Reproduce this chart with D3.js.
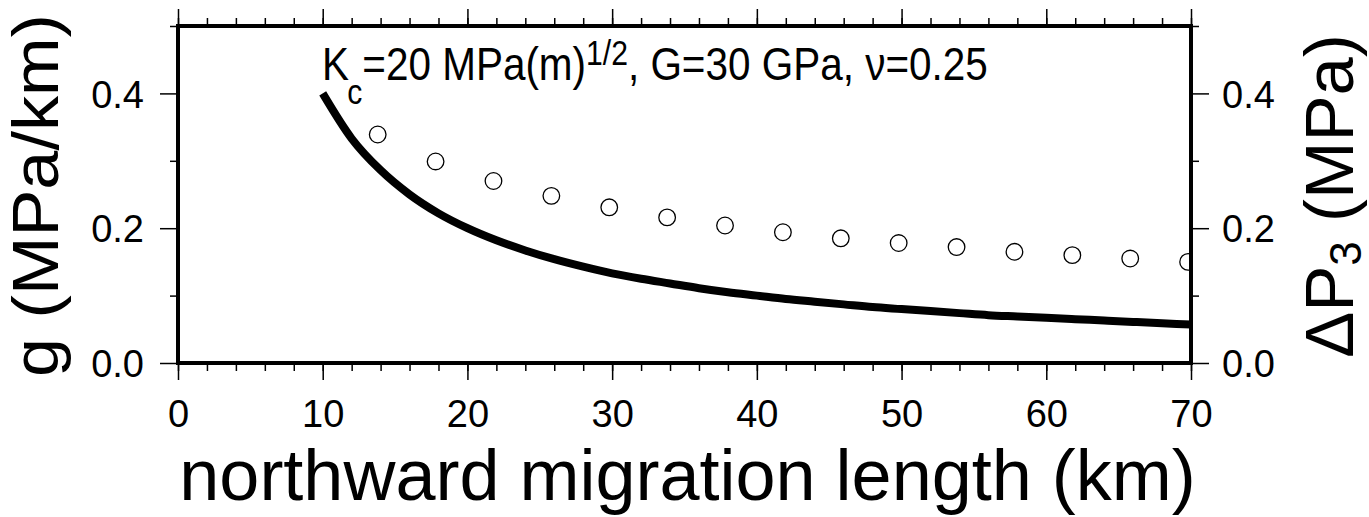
<!DOCTYPE html>
<html>
<head>
<meta charset="utf-8">
<script src="https://cdn.jsdelivr.net/npm/d3@7"></script>
<style>
  html, body { margin: 0; padding: 0; background: #fff; }
  svg { display: block; }
  text { font-family: "Liberation Sans", Arial, Helvetica, sans-serif; fill: #000; }
</style>
</head>
<body>
<svg id="chart" width="1369" height="517"></svg>
<script>
// Gradient g (MPa/km) versus northward migration length (km)
const curveLength = [10, 12, 14, 16, 18, 20, 22, 24, 26, 28, 30, 32, 34, 36, 38, 40,
                     42, 44, 46, 48, 50, 52, 54, 56, 58, 60, 62, 64, 66, 68, 70];
const curveG = [0.400, 0.333, 0.286, 0.250, 0.222, 0.200, 0.182, 0.167, 0.154, 0.143,
                0.133, 0.125, 0.118, 0.111, 0.105, 0.100, 0.095, 0.091, 0.087, 0.083,
                0.080, 0.077, 0.074, 0.071, 0.069, 0.067, 0.065, 0.063, 0.061, 0.059, 0.057];

// Pressure change ΔP3 (MPa) at sampled lengths
const pointLength = [13.8, 17.8, 21.8, 25.8, 29.8, 33.8, 37.8, 41.8, 45.8, 49.8,
                     53.8, 57.8, 61.8, 65.8, 69.8];
const pointDP3 = [0.339, 0.299, 0.270, 0.248, 0.231, 0.216, 0.204, 0.194, 0.185, 0.178,
                  0.172, 0.165, 0.160, 0.155, 0.150];

// Axis ticks
const xMajorTicks = [0, 10, 20, 30, 40, 50, 60, 70];
const xMinorTicks = d3.range(0, 71, 2);
const yMajorTicks = [0.0, 0.2, 0.4];
const yMinorTicks = [0.1, 0.3, 0.5];

const svg = d3.select("#chart");
const L = 178, R = 1191, T = 26, B = 363;

const x = d3.scaleLinear().domain([0, 70]).range([L, R]);
const y = d3.scaleLinear().domain([0, 0.5]).range([B, T]);
const y2 = d3.scaleLinear().domain([0, 0.5]).range([B, T]);

function styleAxis(g) {
  g.select(".domain").remove();
  g.selectAll(".tick line").attr("stroke", "#000").attr("stroke-width", 1.5);
  g.selectAll(".tick text").attr("fill", "#000").style("font-size", "38px")
    .style("font-family", '"Liberation Sans", Arial, Helvetica, sans-serif');
}

// minor ticks
svg.append("g").attr("transform", `translate(0,${B})`)
  .call(d3.axisBottom(x).tickValues(xMinorTicks).tickSize(8).tickFormat(""))
  .call(styleAxis);
svg.append("g").attr("transform", `translate(0,${T})`)
  .call(d3.axisTop(x).tickValues(xMinorTicks).tickSize(8).tickFormat(""))
  .call(styleAxis);
svg.append("g").attr("transform", `translate(${L},0)`)
  .call(d3.axisLeft(y).tickValues(yMinorTicks).tickSize(8).tickFormat(""))
  .call(styleAxis);
svg.append("g").attr("transform", `translate(${R},0)`)
  .call(d3.axisRight(y2).tickValues(yMinorTicks).tickSize(8).tickFormat(""))
  .call(styleAxis);

// major ticks
const xAxis = svg.append("g").attr("transform", `translate(0,${B})`)
  .call(d3.axisBottom(x).tickValues(xMajorTicks).tickSize(17).tickFormat(d3.format("d")))
  .call(styleAxis);
xAxis.selectAll(".tick text").attr("y", 64).attr("dy", 0);

svg.append("g").attr("transform", `translate(0,${T})`)
  .call(d3.axisTop(x).tickValues(xMajorTicks).tickSize(17).tickFormat(""))
  .call(styleAxis);

const yAxis = svg.append("g").attr("transform", `translate(${L},0)`)
  .call(d3.axisLeft(y).tickValues(yMajorTicks).tickSize(18).tickPadding(16).tickFormat(d3.format(".1f")))
  .call(styleAxis);
yAxis.selectAll(".tick text").attr("dy", "0.36em");

const yAxisR = svg.append("g").attr("transform", `translate(${R},0)`)
  .call(d3.axisRight(y2).tickValues(yMajorTicks).tickSize(18).tickPadding(13).tickFormat(d3.format(".1f")))
  .call(styleAxis);
yAxisR.selectAll(".tick text").attr("dy", "0.36em");

// plot area
svg.append("clipPath").attr("id", "plotClip")
  .append("rect").attr("x", L).attr("y", T).attr("width", R - L).attr("height", B - T);

const plot = svg.append("g").attr("clip-path", "url(#plotClip)");

const line = d3.line().x(d => x(d[0])).y(d => y(d[1])).curve(d3.curveMonotoneX);
plot.append("path")
  .datum(d3.zip(curveLength, curveG))
  .attr("d", line)
  .attr("fill", "none")
  .attr("stroke", "#000")
  .attr("stroke-width", 8);

plot.selectAll("circle")
  .data(d3.zip(pointLength, pointDP3))
  .enter().append("circle")
  .attr("cx", d => x(d[0]))
  .attr("cy", d => y2(d[1]))
  .attr("r", 8.3)
  .attr("fill", "none")
  .attr("stroke", "#000")
  .attr("stroke-width", 1.3);

// frame
svg.append("rect")
  .attr("x", L).attr("y", T).attr("width", R - L).attr("height", B - T)
  .attr("fill", "none").attr("stroke", "#000").attr("stroke-width", 4);

// stretch factor that brings a text node to a given length
function fitLength(node, target) {
  const w = node.getBBox().width;
  return target / w;
}

// parameter annotation
const ann = svg.append("g");
const annText = ann.append("text").attr("x", 0).attr("y", 0).style("font-size", "47px");
annText.append("tspan").text("K");
annText.append("tspan").attr("dx", -2).attr("dy", 24).style("font-size", "35px").text("c");
annText.append("tspan").attr("dy", -24).text("=20 MPa(m)");
annText.append("tspan").attr("dy", -15).style("font-size", "35px").text("1/2");
annText.append("tspan").attr("dy", 15).text(", G=30 GPa, ν=0.25");
const annScale = fitLength(annText.node(), 666);
ann.attr("transform", `translate(322,80) scale(${annScale},1)`);

// x title
svg.append("text")
  .attr("x", (L + R) / 2 + 3).attr("y", 500)
  .attr("text-anchor", "middle")
  .style("font-size", "72px")
  .text("northward migration length (km)");

// left title
const lt = svg.append("g");
const ltText = lt.append("text").attr("text-anchor", "middle").style("font-size", "64px")
  .text("g (MPa/km)");
const ltScale = fitLength(ltText.node(), 363);
lt.attr("transform", `translate(58,195.5) rotate(-90) scale(${ltScale},1)`);

// right title
const rt = svg.append("text")
  .attr("text-anchor", "middle")
  .attr("transform", "translate(1353,196) rotate(-90)")
  .style("font-size", "69px");
rt.append("tspan").text("ΔP");
rt.append("tspan").attr("dy", 8).style("font-size", "44px").text("3");
rt.append("tspan").attr("dy", -8).text(" (MPa)");
</script>
</body>
</html>
